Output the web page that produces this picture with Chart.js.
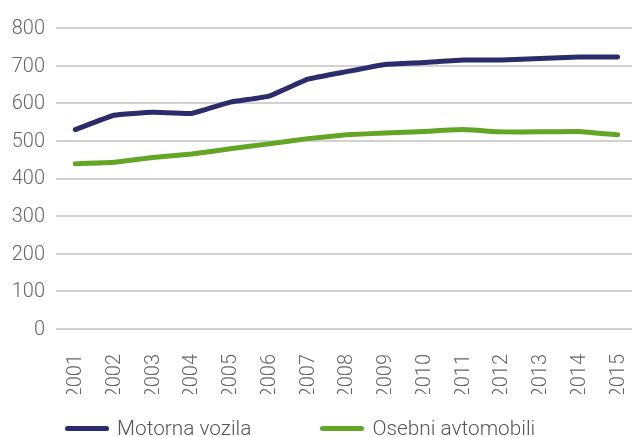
<!DOCTYPE html>
<html>
<head>
<meta charset="utf-8">
<script src="https://cdn.jsdelivr.net/npm/chart.js@4/dist/chart.umd.min.js"></script>
<style>
  html, body { margin: 0; padding: 0; background: #fff; overflow: hidden; }
  #page { position: relative; width: 632px; height: 437px; overflow: hidden; }
  #wrap { width: 637px; height: 437px; }
  #legend {
    position: absolute; left: 65px; top: 416px;
    display: flex; align-items: center;
    font-family: 'Roboto Light', Roboto, sans-serif; font-weight: 300;
    font-size: 20.8px; line-height: 24px; color: #555;
  }
  #legend .item { display: flex; align-items: center; margin-right: 69px; white-space: nowrap; }
  #legend .swatch { width: 44px; height: 5px; border-radius: 2.5px; margin-right: 8px; }
</style>
</head>
<body>
<div id="page">
  <div id="wrap"><canvas id="chart"></canvas></div>
  <div id="legend"></div>
</div>
<script>
const years = ["2001", "2002", "2003", "2004", "2005", "2006", "2007", "2008",
    "2009", "2010", "2011", "2012", "2013", "2014", "2015"];
const motornaVozila = [530, 568, 576, 573, 603, 619, 664, 684, 703, 708, 715, 715, 719, 723, 723];
const osebniAvtomobili = [439, 443, 456, 465, 479, 492, 506, 516, 521, 525, 530, 524, 524, 525, 516];

Chart.defaults.font.family = "'Roboto Light', Roboto, sans-serif";
Chart.defaults.font.weight = 300;
Chart.defaults.color = "#666";

var ctx = document.getElementById("chart").getContext("2d");
var myChart = new Chart(ctx, {
    type: "line",
    data: {
        labels: years,
        datasets: [{
            label: "Motorna vozila",
            data: motornaVozila,
            borderColor: "#2b2c6b",
            backgroundColor: "#2b2c6b",
            borderWidth: 5,
            borderCapStyle: "round",
            pointRadius: 0,
            tension: 0.1
        },
        {
            label: "Osebni avtomobili",
            data: osebniAvtomobili,
            borderColor: "#63a625",
            backgroundColor: "#63a625",
            borderWidth: 5,
            borderCapStyle: "round",
            pointRadius: 0,
            tension: 0.1
        }]
    },
    options: {
        responsive: true,
        maintainAspectRatio: false,
        animation: false,
        layout: { padding: { left: 0, right: 0, top: 28, bottom: 43 } },
        scales: {
            x: {
                offset: true,
                grid: { display: false },
                border: { display: false },
                ticks: { minRotation: 90, maxRotation: 90, padding: 17, font: { size: 20 }, color: "#666" },
                afterFit: function(scale) {
                    scale.height = 65;
                    scale.paddingLeft = 0;
                    scale.paddingRight = 0;
                }
            },
            y: {
                min: 0,
                max: 800,
                ticks: { stepSize: 100, font: { size: 20 }, color: "#666", padding: 11 },
                grid: { color: "#d2d2d2", lineWidth: 2, drawTicks: false },
                border: { display: false },
                afterFit: function(scale) { scale.width = 56; }
            }
        },
        plugins: {
            legend: { display: false },
            tooltip: { enabled: false }
        }
    }
});

// legend in html, built from the chart's own legend items
let legendBox = document.getElementById("legend");
Chart.defaults.plugins.legend.labels.generateLabels(myChart).forEach(item => {
    let el = document.createElement("div");
    el.className = "item";
    let sw = document.createElement("span");
    sw.className = "swatch";
    sw.style.background = item.fillStyle;
    let txt = document.createElement("span");
    txt.textContent = item.text;
    el.appendChild(sw);
    el.appendChild(txt);
    legendBox.appendChild(el);
});
</script>
</body>
</html>
